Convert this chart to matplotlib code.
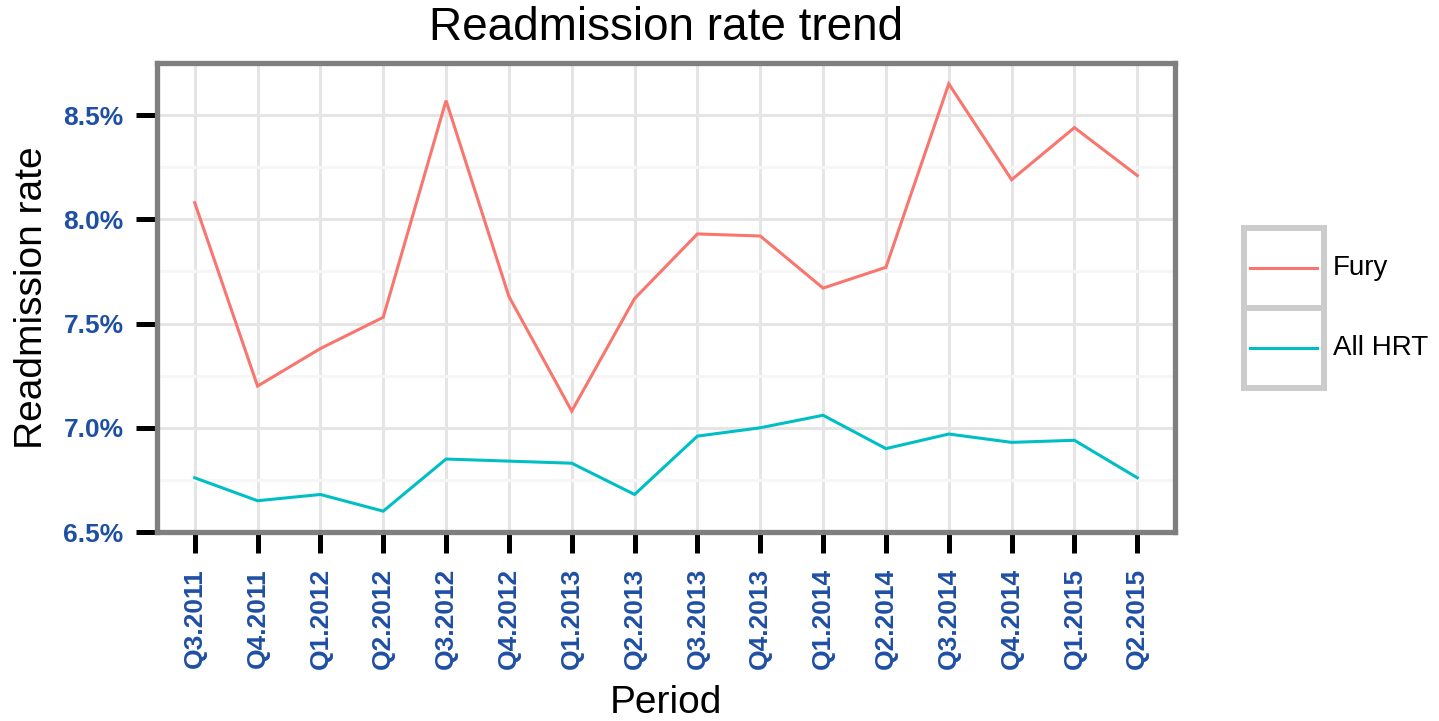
import matplotlib; matplotlib.use("Agg")
import matplotlib.pyplot as plt
from matplotlib.lines import Line2D
from matplotlib.patches import Rectangle
from matplotlib.ticker import FuncFormatter, MultipleLocator

W, H = 1439, 721
DPI  = 100

PERIODS = ["Q3.2011", "Q4.2011", "Q1.2012", "Q2.2012", "Q3.2012", "Q4.2012",
           "Q1.2013", "Q2.2013", "Q3.2013", "Q4.2013", "Q1.2014", "Q2.2014",
           "Q3.2014", "Q4.2014", "Q1.2015", "Q2.2015"]
FURY    = [8.08, 7.20, 7.38, 7.53, 8.57, 7.63, 7.08, 7.62,
           7.93, 7.92, 7.67, 7.77, 8.65, 8.19, 8.44, 8.21]
ALL_HRT = [6.76, 6.65, 6.68, 6.60, 6.85, 6.84, 6.83, 6.68,
           6.96, 7.00, 7.06, 6.90, 6.97, 6.93, 6.94, 6.76]
SERIES  = [("Fury", FURY, "#F8766D"), ("All HRT", ALL_HRT, "#00BFC4")]

TICK_BLUE = "#1f4fa3"
FONT      = "Liberation Sans"


def px(x, y):
    """pixel coords (top-left origin) -> figure fraction"""
    return x / W, 1 - y / H


plt.rcParams["font.family"] = [FONT, "DejaVu Sans"]
fig = plt.figure(figsize=(W / DPI, H / DPI), dpi=DPI)
fig.patch.set_facecolor("white")

left, top, right, bottom = 157, 63, 1175, 532
ax = fig.add_axes([left / W, 1 - bottom / H, (right - left) / W, (bottom - top) / H])

x = list(range(len(PERIODS)))
for name, vals, col in SERIES:
    ax.plot(x, vals, color=col, lw=2.2, solid_joinstyle="miter", zorder=3)

ax.set_xlim(-0.6, len(PERIODS) - 0.4)
ax.set_ylim(6.5, 8.75)
ax.set_xticks(x)
ax.set_xticklabels(PERIODS, rotation=90)
ax.yaxis.set_major_locator(MultipleLocator(0.5))
ax.yaxis.set_minor_locator(MultipleLocator(0.25))
ax.yaxis.set_major_formatter(FuncFormatter(lambda v, _: f"{v:.1f}%"))

ax.grid(True, which="major", color="#e5e5e5", lw=2.2, zorder=0)
ax.grid(True, which="minor", axis="y", color="#f6f6f6", lw=2.2, zorder=0)
ax.set_axisbelow(True)

for s in ax.spines.values():
    s.set_color("#7f7f7f")
    s.set_linewidth(3.8)

ax.tick_params(axis="both", which="major", direction="out", length=15, width=3.6,
               color="black", labelcolor=TICK_BLUE, labelsize=19)
ax.tick_params(axis="y", which="minor", length=0)
ax.tick_params(axis="y", pad=9)
ax.tick_params(axis="x", pad=11)
for lab in ax.get_xticklabels() + ax.get_yticklabels():
    lab.set_fontweight("bold")

ax.set_xlabel("Period", fontsize=28, color="black", labelpad=11)
ax.set_ylabel("Readmission rate", fontsize=28, color="black", labelpad=10)
fig.text(*px((left + right) / 2, 28), "Readmission rate trend",
         fontsize=33, ha="center", va="center")

# legend: one grey-framed key box per series, ggplot style
box_x0, box_x1 = 1244, 1324
box_tops = [228, 308]
for (name, vals, col), y0 in zip(SERIES, box_tops):
    y1 = y0 + 80
    fx0, fy1 = px(box_x0, y1)
    fx1, fy0 = px(box_x1, y0)
    fig.add_artist(Rectangle((fx0, fy1), fx1 - fx0, fy0 - fy1, transform=fig.transFigure,
                             facecolor="white", edgecolor="#cccccc", lw=4.3))
    ym = (y0 + y1) / 2
    lx0, ly = px(1250, ym)
    lx1, _ = px(1317, ym)
    fig.add_artist(Line2D([lx0, lx1], [ly, ly], transform=fig.transFigure, color=col, lw=2.2))
    fig.text(*px(1333, ym), name, fontsize=20, ha="left", va="center")

fig.savefig("out.png", dpi=DPI, facecolor="white")
